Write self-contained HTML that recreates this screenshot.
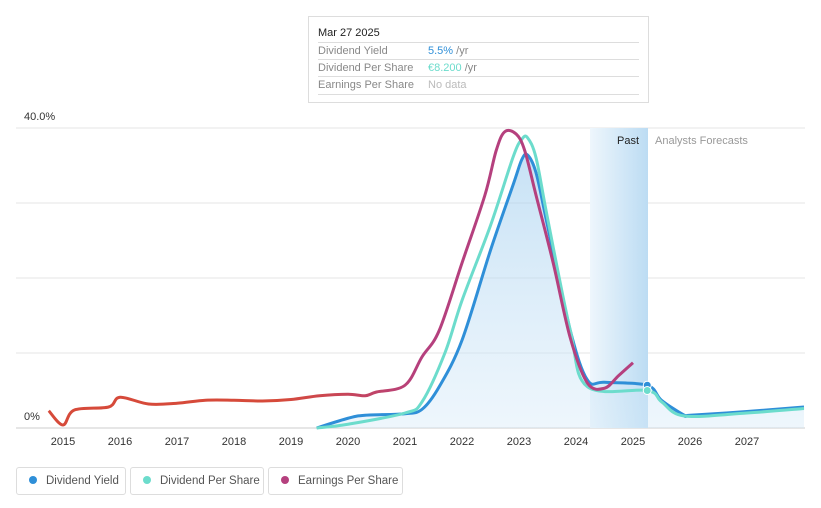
<!DOCTYPE html>
<html><head><meta charset="utf-8">
<style>
body{margin:0;background:#fff;font-family:"Liberation Sans",sans-serif;}
#wrap{position:relative;width:821px;height:508px;overflow:hidden;}
.tt{position:absolute;left:308px;top:16px;width:339px;height:85px;border:1px solid #ddd;background:#fff;font-size:11px;}
.tt .h{position:absolute;left:9px;top:10px;color:#222;font-size:11px;}
.tt .r{position:absolute;left:9px;width:321px;border-top:1px solid #ddd;height:17px;line-height:17px;color:#888;}
.tt .v{position:absolute;left:110px;top:0;}
.leg{position:absolute;top:467px;height:28px;border:1px solid #ddd;border-radius:3px;font-size:11.5px;color:#555;line-height:27px;box-sizing:border-box;white-space:nowrap;overflow:hidden;}
.leg i{display:inline-block;width:8px;height:8px;border-radius:50%;margin:0 9px 0 12px;vertical-align:0px;}
</style></head><body>
<div id="wrap">
<svg id="svg" width="821" height="508" style="position:absolute;left:0;top:0">
<defs>
<linearGradient id="areaG" x1="0" y1="0" x2="0" y2="1"><stop offset="0" stop-color="#9ccbee" stop-opacity="0.8"/><stop offset="1" stop-color="#d6eaf8" stop-opacity="0.6"/></linearGradient>
<linearGradient id="pastG" x1="0" y1="0" x2="1" y2="0"><stop offset="0" stop-color="#eef6fc"/><stop offset="1" stop-color="#bcdcf3"/></linearGradient>
<linearGradient id="epsG" gradientUnits="userSpaceOnUse" x1="280" y1="0" x2="420" y2="0"><stop offset="0" stop-color="#d64a3a"/><stop offset="1" stop-color="#b5407e"/></linearGradient>
</defs>
<g id="grid"></g>
<rect x="590" y="128" width="58" height="300" fill="url(#pastG)"/>
<g id="marks"></g>
<text x="24" y="120" font-size="11" fill="#333">40.0%</text>
<text x="24" y="420" font-size="11" fill="#333">0%</text>
<text x="639" y="144" font-size="11" fill="#222" text-anchor="end">Past</text>
<text x="655" y="144" font-size="11" fill="#999">Analysts Forecasts</text>
</svg>
<div class="tt">
<div class="h">Mar 27 2025</div>
<div class="r" style="top:25px">Dividend Yield<span class="v" style="color:#2f8fd8">5.5% <span style="color:#888">/yr</span></span></div>
<div class="r" style="top:42px">Dividend Per Share<span class="v" style="color:#6cdccc">€8.200 <span style="color:#888">/yr</span></span></div>
<div class="r" style="top:59px;border-bottom:1px solid #ddd">Earnings Per Share<span class="v" style="color:#bbb">No data</span></div>
</div>
<div class="leg" style="left:16px;width:110px"><i style="background:#2f8fd8"></i>Dividend Yield</div>
<div class="leg" style="left:130px;width:134px"><i style="background:#6cdccc"></i>Dividend Per Share</div>
<div class="leg" style="left:268px;width:135px"><i style="background:#b5407e"></i>Earnings Per Share</div>
</div>
<script>
const xTicks=[2015,2016,2017,2018,2019,2020,2021,2022,2023,2024,2025,2026,2027];
const yGrid=[0,10,20,30,40];
const dyYears=[2019.45,2020,2020.3,2021,2021.3,2021.6,2022,2022.5,2022.9,2023.05,2023.15,2023.3,2023.5,2023.9,2024.2,2024.5,2025.25,2025.5,2025.9,2026,2027,2028];
const dyVals=[0,1.3,1.7,1.9,2.5,5.5,11.7,23.7,32.5,35.8,36.4,34,27,13,6.4,6.1,5.7,3.7,1.7,1.7,2.2,2.8];
const dpsYears=[2019.45,2020,2021,2021.3,2021.7,2022,2022.5,2022.9,2023.05,2023.15,2023.3,2023.5,2023.9,2024.2,2025.25,2025.5,2025.9,2027,2028];
const dpsVals=[0,0.5,2,3.5,10,17,27,36.2,38.5,38.7,36,28,13,5.5,5,3.5,1.6,2,2.6];
const epsYears=[2014.75,2015,2015.2,2015.8,2016,2016.5,2017,2017.5,2018,2018.5,2019,2019.5,2020,2020.3,2020.5,2021,2021.3,2021.6,2022,2022.4,2022.6,2022.75,2022.95,2023.1,2023.3,2023.6,2023.9,2024.2,2024.5,2024.75,2025];
const epsVals=[2.3,0.4,2.4,2.8,4.1,3.2,3.3,3.7,3.7,3.6,3.8,4.3,4.5,4.3,4.8,5.7,9.5,13,22,31,37,39.5,39.2,37,31,22,12,6,5.3,7,8.7];
const X=y=>63+(y-2015)*57, Y=v=>428-v*7.5;
const NS="http://www.w3.org/2000/svg";
const svg=document.getElementById('svg'),grid=document.getElementById('grid'),marks=document.getElementById('marks');
function el(t,a,p){const e=document.createElementNS(NS,t);for(const k in a)e.setAttribute(k,a[k]);p.appendChild(e);return e;}
yGrid.forEach(v=>{const l=el('line',{x1:16,x2:805,y1:Y(v),y2:Y(v),stroke:v==0?'#ccc':'#e6e6e6'},grid);

});
xTicks.forEach(t=>{const e=el('text',{x:X(t),y:445,'font-size':11,fill:'#333','text-anchor':'middle'},grid);e.textContent=t;

});
function path(xs,vs){let pts=xs.map((x,i)=>[X(x),Y(vs[i])]);let d='M'+pts[0];
for(let i=0;i<pts.length-1;i++){const p0=pts[i-1]||pts[i],p1=pts[i],p2=pts[i+1],p3=pts[i+2]||p2;
d+=' C'+(p1[0]+(p2[0]-p0[0])/6)+','+(p1[1]+(p2[1]-p0[1])/6)+' '+(p2[0]-(p3[0]-p1[0])/6)+','+(p2[1]-(p3[1]-p1[1])/6)+' '+p2;}return d;}
const dyD=path(dyYears,dyVals);
const a=el('path',{d:dyD+' L'+X(dyYears[dyYears.length-1])+',428 L'+X(dyYears[0])+',428 Z',fill:'url(#areaG)',opacity:0.7},marks);


const p1=el('path',{d:dyD,fill:'none',stroke:'#2f8fd8','stroke-width':3},marks);


const p2=el('path',{d:path(dpsYears,dpsVals),fill:'none',stroke:'#6cdccc','stroke-width':3},marks);


const p3=el('path',{d:path(epsYears,epsVals),fill:'none',stroke:'url(#epsG)','stroke-width':3},marks);


const c1=el('circle',{cx:X(2025.25),cy:Y(5.7),r:4,fill:'#2f8fd8',stroke:'#fff'},marks);


const c2=el('circle',{cx:X(2025.25),cy:Y(5),r:4,fill:'#6cdccc',stroke:'#fff'},marks);


</script>
</body></html>
